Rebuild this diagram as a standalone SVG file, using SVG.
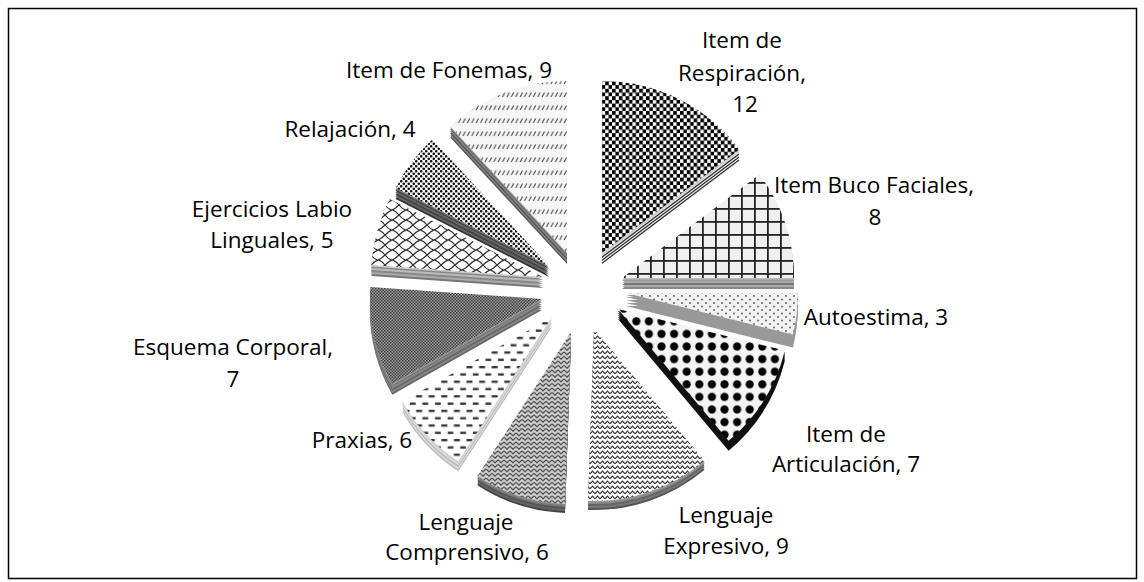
<svg xmlns="http://www.w3.org/2000/svg" width="1144" height="582" viewBox="0 0 1144 582">
<style>
text{font-family:"Open Sans","Liberation Sans",sans-serif;font-size:22.5px;fill:#000;text-anchor:middle}
.d1{fill:#2a2a2a}.l1{fill:#eeeeee}
.g5{fill:#555}.g6{fill:#666}.g7{fill:#777}.g8{fill:#888}.g9{fill:#999}.ga{fill:#aaa}.gb{fill:#bbb}.gc{fill:#ccc}.gd{fill:#ddd}.g3{fill:#333}.g4{fill:#444}.k{fill:#111}
</style>
<defs>
<path id="s1" d="M602,253 L602,81 A172,172 0 0 1 739.4,149.5 Z"/>
<path id="s2" d="M622,278 L759.4,174.5 A172,172 0 0 1 794,278 Z"/>
<path id="s3" d="M626,293 L798,293 A172,172 0 0 1 792.9,334.6 Z"/>
<path id="s4" d="M618,309 L784.9,350.6 A172,172 0 0 1 728.6,440.8 Z"/>
<path id="s5" d="M594,329 L704.6,460.8 A172,172 0 0 1 588,500.9 Z"/>
<path id="s6" d="M571,332 L565,503.9 A172,172 0 0 1 477.3,476.3 Z"/>
<path id="s7" d="M552,317 L458.3,461.3 A172,172 0 0 1 402.3,401.7 Z"/>
<path id="s8" d="M542,299 L392.3,383.7 A172,172 0 0 1 370.4,287 Z"/>
<path id="s9" d="M543,277 L371.4,265 A172,172 0 0 1 389.7,198.9 Z"/>
<path id="s10" d="M549,266 L395.7,187.9 A172,172 0 0 1 432.3,139.6 Z"/>
<path id="s11" d="M567,253 L450.3,126.6 A172,172 0 0 1 567,81 Z"/>
<pattern id="pResp" width="6.8" height="7.4" patternUnits="userSpaceOnUse"><rect width="6.8" height="7.4" fill="#fff"/><rect width="3.6" height="3.9" fill="#000"/><rect x="3.4" y="3.7" width="3.6" height="3.9" fill="#000"/></pattern>
<pattern id="pBuco" width="13" height="13" patternUnits="userSpaceOnUse"><rect width="13" height="13" fill="#f0f0f0"/><rect width="13" height="1.8" fill="#222"/><rect width="1.8" height="13" fill="#222"/></pattern>
<pattern id="pAuto" width="8" height="7" patternUnits="userSpaceOnUse"><rect width="8" height="7" fill="#f2f2f2"/><circle cx="2" cy="2" r="0.9" fill="#555"/><circle cx="6" cy="5.5" r="0.9" fill="#555"/></pattern>
<pattern id="pArt" width="12.6" height="12.6" patternUnits="userSpaceOnUse"><rect width="12.6" height="12.6" fill="#f4f4f4"/><circle cx="6.3" cy="6.3" r="4.1" fill="#000"/></pattern>
<pattern id="pExp" width="5" height="5" patternUnits="userSpaceOnUse"><rect width="5" height="5" fill="#fff"/><path d="M0,3.8 L2.5,1.2 L5,3.8" fill="none" stroke="#333" stroke-width="1.2"/></pattern>
<pattern id="pComp" width="6" height="4.5" patternUnits="userSpaceOnUse"><rect width="6" height="4.5" fill="#d0d0d0"/><path d="M0,0.8 L3,3.7 L6,0.8" fill="none" stroke="#3a3a3a" stroke-width="1.2"/></pattern>
<pattern id="pPrax" width="12.6" height="14.6" patternUnits="userSpaceOnUse"><rect width="12.6" height="14.6" fill="#fff"/><rect x="0.3" y="1" width="6" height="2.3" fill="#333"/><rect x="6.6" y="8.3" width="5.8" height="2.3" fill="#333"/></pattern>
<pattern id="pEsq" width="3" height="3" patternUnits="userSpaceOnUse"><rect width="3" height="3" fill="#a0a0a0"/><rect width="1.5" height="1.5" fill="#3c3c3c"/><rect x="1.5" y="1.5" width="1.5" height="1.5" fill="#3c3c3c"/></pattern>
<pattern id="pEjer" width="14" height="10" patternUnits="userSpaceOnUse"><rect width="14" height="10" fill="#fff"/><path d="M0,0 Q4,1 7,5 Q10,9 14,10 M0,10 Q3,9 7,5 Q11,1 14,0" fill="none" stroke="#333" stroke-width="1.2"/></pattern>
<pattern id="pRel" width="5" height="5" patternUnits="userSpaceOnUse"><rect width="5" height="5" fill="#fff"/><circle cx="1.25" cy="1.25" r="1.3" fill="#111"/><circle cx="3.75" cy="3.75" r="1.3" fill="#111"/></pattern>
<pattern id="pFon" width="4.4" height="13" patternUnits="userSpaceOnUse"><rect width="4.4" height="13" fill="#f6f6f6"/><path d="M0.9,6 L3.3,1.5" stroke="#555" stroke-width="1.2"/></pattern>
</defs>
<rect x="8.5" y="8.5" width="1128" height="570" fill="#fff" stroke="#000" stroke-width="1.5"/>
<g id="connectors"></g>
<g id="respiracion">
<use href="#s1" y="11" class="d1"/><use href="#s1" y="9.5" class="l1"/><use href="#s1" y="8" class="d1"/><use href="#s1" y="6.5" class="l1"/><use href="#s1" y="5" class="d1"/><use href="#s1" y="3.5" class="gd"/><use href="#s1" y="2" class="gc"/>
<use href="#s1" fill="url(#pResp)"/>
<text x="742" y="48">Item de</text><text x="742" y="81">Respiración,</text><text x="745" y="112">12</text>
</g>
<g id="buco-faciales">
<use href="#s2" y="11" class="g8"/><use href="#s2" y="9" class="ga"/><use href="#s2" y="7" class="g7"/><use href="#s2" y="5" class="ga"/><use href="#s2" y="3" class="g9"/><use href="#s2" y="1.5" class="gb"/>
<use href="#s2" fill="url(#pBuco)"/>
<text x="874" y="193">Item Buco Faciales,</text><text x="875" y="225">8</text>
</g>
<g id="autoestima">
<use href="#s3" y="13" class="g9"/><use href="#s3" y="10" class="g9"/><use href="#s3" y="7" class="g9"/><use href="#s3" y="4" class="g9"/><use href="#s3" y="2" class="g9"/>
<use href="#s3" fill="url(#pAuto)"/>
<text x="876" y="325">Autoestima, 3</text>
</g>
<g id="articulacion">
<use href="#s4" y="10" class="k"/><use href="#s4" y="8" class="k"/><use href="#s4" y="6" class="k"/><use href="#s4" y="4" class="k"/><use href="#s4" y="2" class="k"/>
<use href="#s4" fill="url(#pArt)"/>
<text x="846" y="442">Item de</text><text x="846" y="472">Articulación, 7</text>
</g>
<g id="expresivo">
<use href="#s5" y="9" class="g5"/><use href="#s5" y="7" class="g7"/><use href="#s5" y="5" class="g6"/><use href="#s5" y="3" class="g8"/><use href="#s5" y="1.5" class="g9"/>
<use href="#s5" fill="url(#pExp)"/>
<text x="726" y="523">Lenguaje</text><text x="726" y="554">Expresivo, 9</text>
</g>
<g id="comprensivo">
<use href="#s6" y="9" class="g4"/><use href="#s6" y="7" class="g6"/><use href="#s6" y="5" class="g5"/><use href="#s6" y="3" class="g7"/><use href="#s6" y="1.5" class="g8"/>
<use href="#s6" fill="url(#pComp)"/>
<text x="466" y="530">Lenguaje</text><text x="467" y="560">Comprensivo, 6</text>
</g>
<g id="praxias">
<use href="#s7" y="10" class="gb"/><use href="#s7" y="8" class="gd"/><use href="#s7" y="6" class="gb"/><use href="#s7" y="4" class="gd"/><use href="#s7" y="2" class="gc"/>
<use href="#s7" fill="url(#pPrax)"/>
<text x="362" y="448">Praxias, 6</text>
</g>
<g id="esquema-corporal">
<use href="#s8" y="11" class="g6"/><use href="#s8" y="9" class="g8"/><use href="#s8" y="7" class="g6"/><use href="#s8" y="5" class="g8"/><use href="#s8" y="3" class="g7"/><use href="#s8" y="1.5" class="g9"/>
<use href="#s8" fill="url(#pEsq)"/>
<text x="233" y="355">Esquema Corporal,</text><text x="233" y="387">7</text>
</g>
<g id="ejercicios-labio-linguales">
<use href="#s9" y="11" class="g7"/><use href="#s9" y="9" class="ga"/><use href="#s9" y="7" class="g8"/><use href="#s9" y="5" class="gb"/><use href="#s9" y="3" class="g8"/><use href="#s9" y="1.5" class="gc"/>
<use href="#s9" fill="url(#pEjer)"/>
<text x="272" y="217">Ejercicios Labio</text><text x="272" y="248">Linguales, 5</text>
</g>
<g id="relajacion">
<use href="#s10" y="11" class="g3"/><use href="#s10" y="9" class="g6"/><use href="#s10" y="7" class="g4"/><use href="#s10" y="5" class="g6"/><use href="#s10" y="3" class="g4"/><use href="#s10" y="1.5" class="g7"/>
<use href="#s10" fill="url(#pRel)"/>
<text x="350" y="137">Relajación, 4</text>
</g>
<g id="fonemas">
<use href="#s11" y="11" class="g5"/><use href="#s11" y="9" class="g8"/><use href="#s11" y="7" class="g5"/><use href="#s11" y="5" class="g8"/><use href="#s11" y="3" class="g6"/><use href="#s11" y="1.5" class="g9"/>
<use href="#s11" fill="url(#pFon)"/>
<text x="449" y="78">Item de Fonemas, 9</text>
</g>
</svg>
